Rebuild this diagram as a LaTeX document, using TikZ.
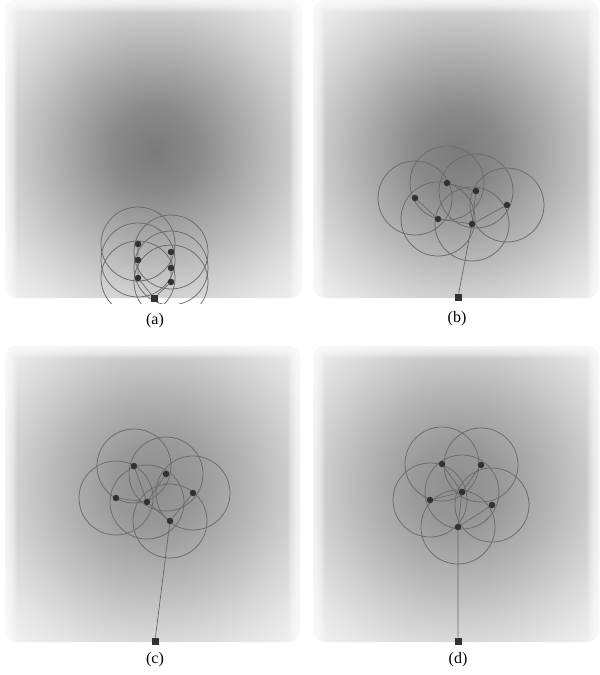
\documentclass[tikz,border=0pt]{standalone}
\usepackage{fontspec}
\setmainfont{Liberation Serif}
\usetikzlibrary{positioning,backgrounds}
\definecolor{rangegray}{RGB}{105,105,105}
\definecolor{robotdark}{RGB}{50,50,50}

\pgfdeclareradialshading{fielddark}{\pgfpoint{0bp}{0bp}}{%
  color(0bp)=(black!52); color(5bp)=(black!46); color(11bp)=(black!32);
  color(16.5bp)=(black!19); color(21bp)=(black!10); color(25bp)=(black!5);
  color(50bp)=(black!5)}
\pgfdeclareradialshading{fieldlight}{\pgfpoint{0bp}{0bp}}{%
  color(0bp)=(black!44); color(5bp)=(black!40); color(11bp)=(black!29);
  color(16.5bp)=(black!18); color(21bp)=(black!10); color(25bp)=(black!5);
  color(50bp)=(black!5)}

\tikzset{
  robot/.style={circle,fill=robotdark,inner sep=0pt,minimum size=6.5pt},
  basestation/.style={rectangle,fill=robotdark,inner sep=0pt,minimum size=7pt},
  sensing/.style={draw=rangegray,line width=0.75pt},
  link/.style={draw=rangegray,line width=0.7pt},
  caption/.style={font=\fontsize{16}{18}\selectfont}
}

% x0 y0 x1 y1 cx cy shading
\newcommand{\fieldpanel}[7]{%
  \begin{scope}
    \clip[rounded corners=12pt] (#1,#2) rectangle (#3,#4);
    \shade[shading=#7] (#5-215,#6-215) rectangle (#5+215,#6+215);
    \foreach \w in {3,7,...,23}
      \draw[white,opacity=0.2,line width=\w pt,rounded corners=12pt]
        (#1,#2) rectangle (#3,#4+40);
  \end{scope}}

\begin{document}
\begin{tikzpicture}[x=1pt,y=-1pt]
  \useasboundingbox (0,0) rectangle (600,675);
  \begin{pgfonlayer}{background}
    \fill[white] (0,0) rectangle (600,675);
    \fieldpanel{5}{0}{302}{298}{155}{150}{fielddark}
    \fieldpanel{313}{0}{599}{298}{458}{152}{fielddark}
    \fieldpanel{5}{346}{300}{642}{155}{485}{fieldlight}
    \fieldpanel{313}{346}{599}{642}{458}{485}{fieldlight}
  \end{pgfonlayer}

  % (a) start
  \node[robot] (a1) at (138,244) {};
  \node[robot] (a2) at (138,260) {};
  \node[robot] (a3) at (138,278) {};
  \node[robot] (a4) at (171,252) {};
  \node[robot] (a5) at (171,268) {};
  \node[robot] (a6) at (171,282) {};
  \node[basestation] (a0) at (154,298) {};
  \node[caption] (capa) at (155,321) {(a)};

  % (b)
  \node[robot] (b1) at (415,198) {};
  \node[robot] (b2) at (447,183) {};
  \node[robot] (b3) at (476,191) {};
  \node[robot] (b4) at (507,205) {};
  \node[robot] (b5) at (438,219) {};
  \node[robot] (b6) at (472,224) {};
  \node[basestation] (b0) at (458,297) {};
  \node[caption] (capb) at (457,319) {(b)};

  % (c)
  \node[robot] (c1) at (134,466) {};
  \node[robot] (c2) at (166,474) {};
  \node[robot] (c3) at (193,493) {};
  \node[robot] (c4) at (116,498) {};
  \node[robot] (c5) at (147,502) {};
  \node[robot] (c6) at (170,521) {};
  \node[basestation] (c0) at (155,641) {};
  \node[caption] (capc) at (155,660) {(c)};

  % (d) final
  \node[robot] (d1) at (442,464) {};
  \node[robot] (d2) at (481,465) {};
  \node[robot] (d3) at (492,505) {};
  \node[robot] (d4) at (430,500) {};
  \node[robot] (d5) at (462,492) {};
  \node[robot] (d6) at (458,527) {};
  \node[basestation] (d0) at (458,641) {};
  \node[caption] (capd) at (458,660) {(d)};

  \begin{pgfonlayer}{background}
    \begin{scope}
      \clip (0,0) rectangle (600,303);
      \foreach \i in {1,...,6}
        \draw[sensing] (a\i) circle[radius=37pt];
    \end{scope}
    \foreach \p in {b,c,d}
      \foreach \i in {1,...,6}
        \draw[sensing] (\p\i) circle[radius=37pt];

    \draw[link] (a0) -- (a3) -- (a2) -- (a1);
    \draw[link] (a0) -- (a6) -- (a5) -- (a4);

    \draw[link] (b0) -- (b6) -- (b3) -- (b2);
    \draw[link] (b6) -- (b4);
    \draw[link] (b6) -- (b5) -- (b1);

    \draw[link] (c0) -- (c6) -- (c5) -- (c1);
    \draw[link] (c5) -- (c2);
    \draw[link] (c5) -- (c4);
    \draw[link] (c6) -- (c3);

    \draw[link] (d0) -- (d6) -- (d5) -- (d1);
    \draw[link] (d5) -- (d2);
    \draw[link] (d5) -- (d4);
    \draw[link] (d6) -- (d3);
  \end{pgfonlayer}
\end{tikzpicture}
\end{document}
